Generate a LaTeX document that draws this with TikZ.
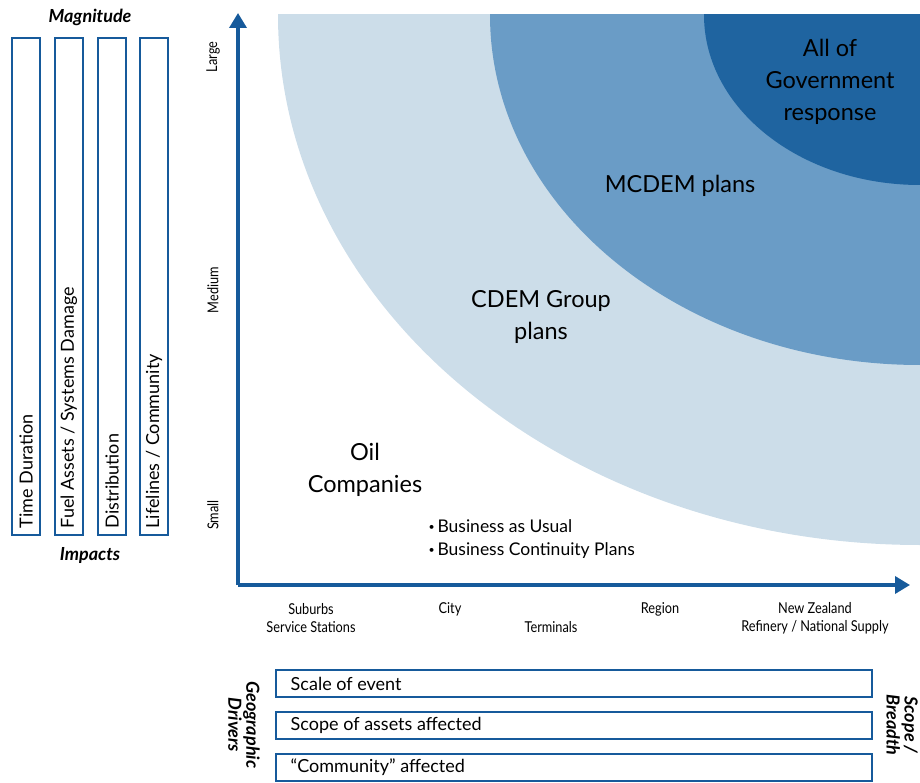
\documentclass[tikz,border=0pt]{standalone}
\usepackage{fontspec}
\setmainfont{Lato}
\newfontfamily\condfont[FakeStretch=0.85]{Lato}
\usetikzlibrary{arrows.meta}
\definecolor{axisblue}{RGB}{22,90,155}
\definecolor{zonelight}{RGB}{204,221,233}
\definecolor{zonemid}{RGB}{106,156,198}
\definecolor{zonedark}{RGB}{31,100,160}
\newcommand{\dotmark}{\raisebox{0.25ex}{\scalebox{0.6}{•}}\,}
\tikzset{
  impactbox/.style={draw=axisblue, line width=1.6pt, minimum width=28pt, minimum height=497pt, inner sep=0pt},
  driverbox/.style={draw=axisblue, line width=1.6pt, minimum width=596pt, minimum height=27pt, inner sep=0pt},
  zonelabel/.style={align=center, font=\fontsize{23.5}{32}\selectfont},
  ticklabel/.style={align=center, font=\condfont\fontsize{15}{18}\selectfont},
  sidetitle/.style={align=center, font=\bfseries\itshape\fontsize{18}{18}\selectfont}
}
\begin{document}
\begin{tikzpicture}[x=1pt, y=-1pt]
  \useasboundingbox (0,0) rectangle (920,783);
  % zones
  \begin{scope}
    \clip (238,15) rectangle (920,585);
    \fill[zonelight] (920,15) ellipse [x radius=642, y radius=530];
    \fill[zonemid] (920,15) ellipse [x radius=430, y radius=350];
    \fill[zonedark] (920,15) ellipse [x radius=216, y radius=170];
  \end{scope}
  \node[zonelabel] (gov) at (830,82) {All of\\Government\\response};
  \node[zonelabel] (mcdem) at (680,186) {MCDEM plans};
  \node[zonelabel] (cdem) at (541,317) {CDEM Group\\plans};
  \node[zonelabel] (oil) at (365,470) {Oil\\Companies};
  \node[align=left, anchor=west, font=\fontsize{17.5}{23}\selectfont] (bau) at (425,539)
    {\dotmark Business as Usual\\\dotmark Business Continuity Plans};
  % axes
  \coordinate (origin) at (238,585);
  \coordinate (ytop) at (238,13);
  \coordinate (xend) at (910,585);
  \draw[axisblue, line width=3.5pt, -{Triangle[length=15pt, width=17pt]}] (origin) -- (ytop);
  \draw[axisblue, line width=3.5pt, -{Triangle[length=15pt, width=17pt]}] (origin) -- (xend);
  \node[ticklabel, rotate=90] (large) at (213,57) {Large};
  \node[ticklabel, rotate=90] (medium) at (213,290) {Medium};
  \node[ticklabel, rotate=90] (small) at (213,515) {Small};
  \node[ticklabel] (suburbs) at (311,618) {Suburbs\\Service Stations};
  \node[ticklabel] (city) at (450,609) {City};
  \node[ticklabel] (terminals) at (551,627) {Terminals};
  \node[ticklabel] (region) at (660,609) {Region};
  \node[ticklabel] (nz) at (815,618) {New Zealand\\Refinery / National Supply};
  % impacts
  \node[sidetitle] (magnitude) at (90,17) {Magnitude};
  \node[sidetitle] (impacts) at (90,555) {Impacts};
  \foreach \name/\xx/\txt in {time/26/{Time Duration}, fuel/69/{Fuel Assets / Systems Damage},
      distr/112/{Distribution}, life/154/{Lifelines / Community}} {
    \node[impactbox] (\name) at (\xx,286.5) {};
    \node[rotate=90, anchor=west, font=\fontsize{18}{18}\selectfont] at ([yshift=4pt]\name.south) {\txt};
  }
  % drivers
  \foreach \name/\yy/\txt in {scale/683.5/{Scale of event}, scope/725.5/{Scope of assets affected},
      comm/767.5/{“Community” affected}} {
    \node[driverbox] (\name) at (574,\yy) {};
    \node[anchor=west, font=\fontsize{18}{20}\selectfont] at ([xshift=12pt]\name.west) {\txt};
  }
  \node[sidetitle, rotate=-90] (geo) at (244,725) {Geographic\\Drivers};
  \node[sidetitle, rotate=-90] (breadth) at (902,725) {Scope /\\Breadth};
\end{tikzpicture}
\end{document}
